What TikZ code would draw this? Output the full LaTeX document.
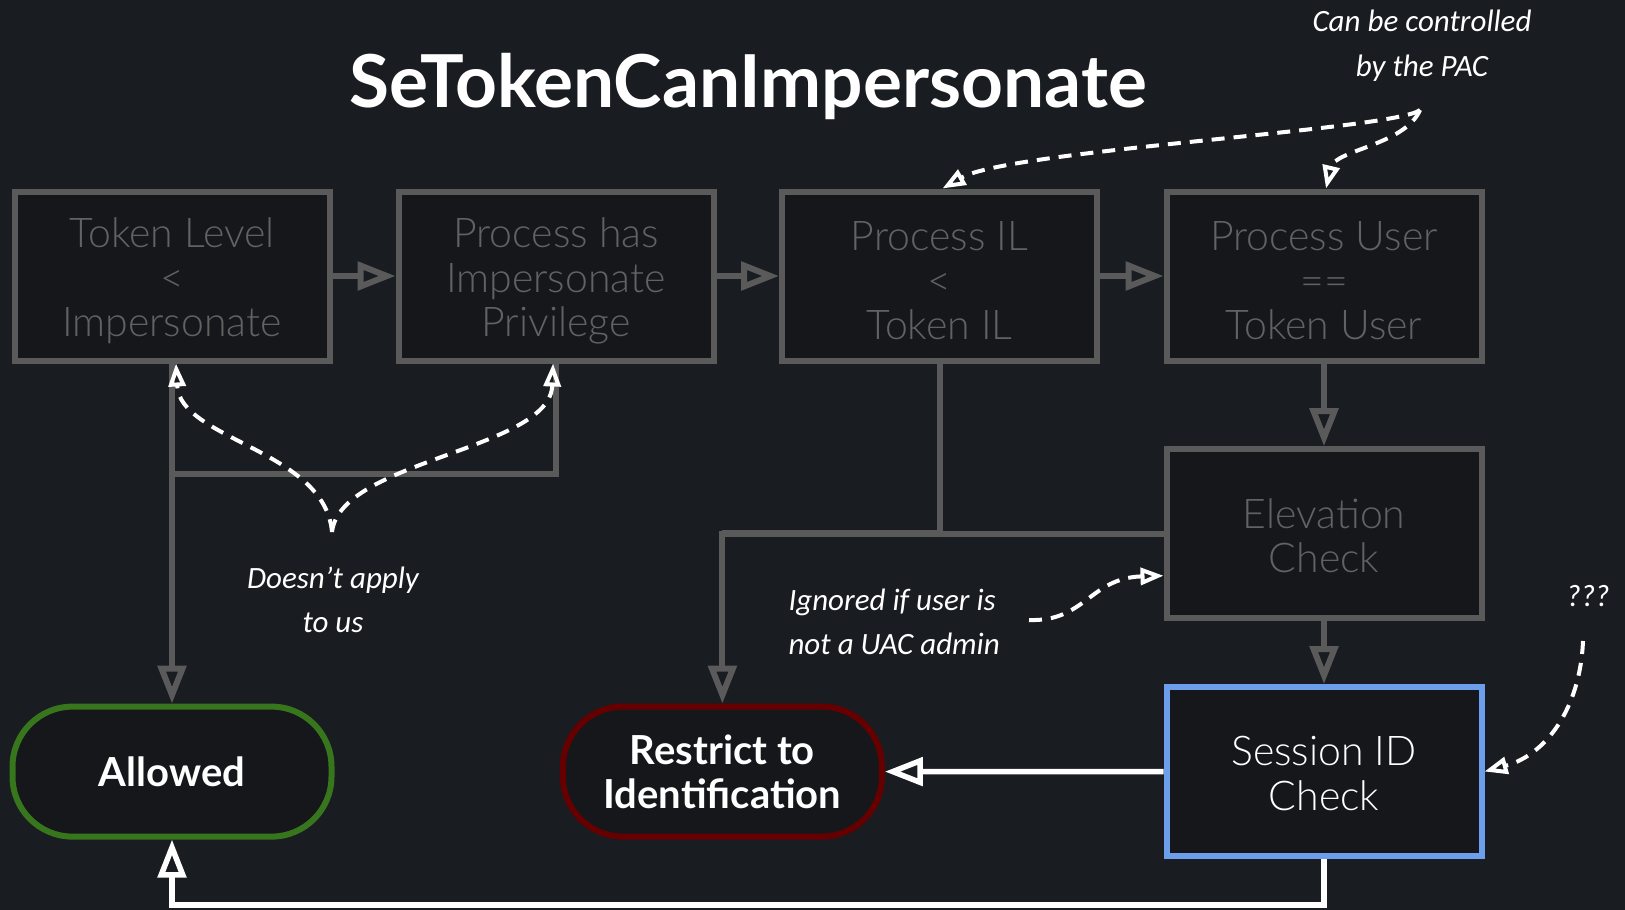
\documentclass[tikz,border=0pt]{standalone}
\usepackage{fontspec}
\setmainfont{Lato}
\newfontfamily\boxfont{Lato Light}
\newfontfamily\handfont{Carlito}
\usetikzlibrary{arrows.meta}
\definecolor{bg}{RGB}{25,28,32}
\definecolor{boxfill}{RGB}{21,23,26}
\definecolor{boxgray}{RGB}{90,90,90}
\definecolor{textgray}{RGB}{98,98,98}
\definecolor{okgreen}{RGB}{56,118,29}
\definecolor{denyred}{RGB}{102,0,0}
\definecolor{selblue}{RGB}{109,158,235}
\begin{document}
\begin{tikzpicture}[x=1pt,y=-1pt,
  boxtext/.style={text=textgray, align=center, yshift=-5pt, inner sep=0pt,
    font=\boxfont\fontsize{41}{44.6}\selectfont},
  checkbox/.style={draw=boxgray, line width=6pt, fill=boxfill,
    minimum width=315pt, minimum height=169pt, inner sep=0pt,
    label={[boxtext]center:{#1}}},
  checkboxtwo/.style={draw=boxgray, line width=6pt, fill=boxfill,
    minimum width=315pt, minimum height=169pt, inner sep=0pt,
    label={[boxtext,yshift=3pt]center:{#1}}},
  pill/.style={line width=6pt, fill=boxfill, rounded corners=60pt,
    minimum width=319pt, minimum height=130pt, inner sep=0pt,
    text=white, align=center,
    font=\bfseries\fontsize{40}{43.5}\selectfont},
  flowline/.style={draw=boxgray, line width=6pt,
    -{Triangle[open,length=38pt,width=28pt]}},
  plainline/.style={draw=boxgray, line width=6pt},
  whiteline/.style={draw=white, line width=5.5pt,
    -{Triangle[open,length=38pt,width=28pt]}},
  noteline/.style={draw=white, line width=4pt, dash pattern=on 13pt off 9pt,
    -{Triangle[open,length=23pt,width=17pt]}},
  notetext/.style={text=white, align=center,
    font=\handfont\itshape\fontsize{31}{44.6}\selectfont},
]
\fill[bg] (0,0) rectangle (1625,910);
\useasboundingbox (0,0) rectangle (1625,910);

% title
\node[text=white, font=\bfseries\fontsize{73}{75}\selectfont] (title) at (748,86) {SeTokenCanImpersonate};

% check boxes
\node[checkbox={Token Level\\<\\Impersonate}] (lvl)  at (172,276)    {};
\node[checkbox={Process has\\Impersonate\\Privilege}] (priv) at (556,276) {};
\node[checkbox={Process IL\\<\\Token IL}] (pil)  at (939.5,276)  {};
\node[checkbox={Process User\\==\\Token User}] (pusr) at (1324,276) {};
\node[checkboxtwo={Elevation\\Check}] (elev) at (1324,533.7) {};
\node[checkboxtwo={\textcolor{white}{Session ID}\\\textcolor{white}{Check}}, draw=selblue] (sess) at (1324,771.5) {};

% outcomes
\node[pill, draw=okgreen] (allow) at (172,771.6) {Allowed};
\node[pill, draw=denyred] (restr) at (722.4,771.6) {Restrict to\\Identification};

% junction points
\coordinate (jleft)  at (172,473.6);
\coordinate (jright) at (722.4,532.7);
\coordinate (bottom) at (172,905);

% main flow
\draw[flowline] (lvl) -- (priv);
\draw[flowline] (priv) -- (pil);
\draw[flowline] (pil) -- (pusr);
\draw[flowline] (pusr) -- (elev);
\draw[flowline] (elev) -- (sess);

% failures towards the outcomes
\draw[flowline] (lvl.south) -- (allow.north);
\draw[plainline] (priv.south) |- (jleft);
\draw[plainline] (pil.south) |- (jright);
\draw[flowline] (elev.west) -| (restr.north);
\draw[whiteline] (sess.west) -- (restr.east);
\draw[whiteline] (sess.south) |- (bottom) -- (allow.south);

% annotations
\node[notetext] (pac) at (1422,46) {Can be controlled\\by the PAC};
\coordinate (pacend) at (1420,110);
\draw[noteline] (pacend) .. controls (1395,130) and (1010,150) .. ([xshift=3pt]pil.north);
\draw[noteline] (pacend) .. controls (1405,145) and (1335,150) .. ([xshift=2pt]pusr.north);

\node[notetext] (notus) at (333,600) {Doesn’t apply\\to us};
\coordinate (notusend) at (332,532);
\draw[noteline] (notusend) .. controls (325,450) and (180,440) .. ([xshift=4pt]lvl.south);
\draw[noteline] (notusend) .. controls (340,460) and (550,450) .. ([xshift=-3pt]priv.south);

\node[notetext, align=left, anchor=west] (uac) at (785,622) {Ignored if user is\\not a UAC admin};
\coordinate (uacend) at (1029,620);
\draw[noteline] (uacend) .. controls (1085,622) and (1090,578) .. ([yshift=-42pt]elev.west);

\node[notetext] (qqq) at (1588,596) {???};
\coordinate (qqqend) at (1583,641);
\draw[noteline] (qqqend) .. controls (1580,710) and (1545,755) .. (sess.east);
\end{tikzpicture}
\end{document}
